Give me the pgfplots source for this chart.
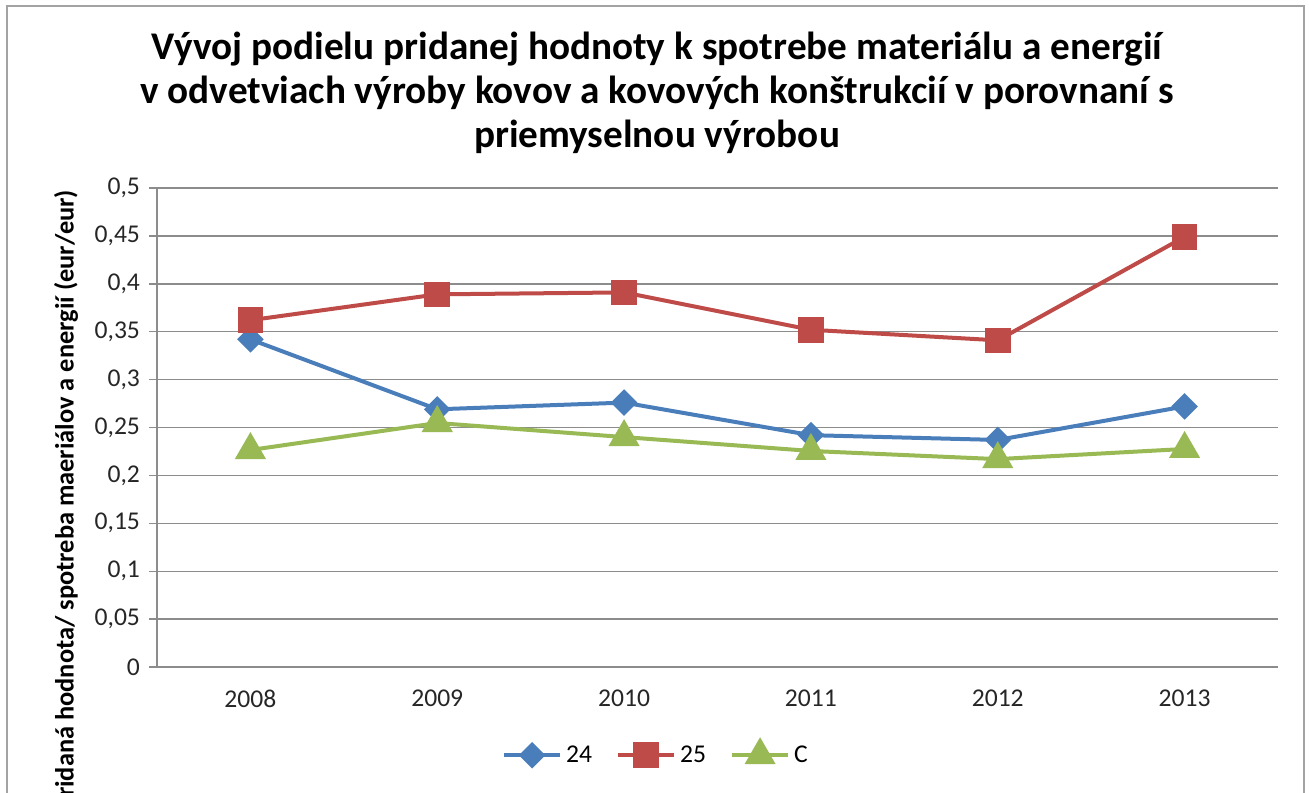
\documentclass[border=0pt]{standalone}
\usepackage{pgfplots}
\pgfplotsset{compat=1.18}
\usepackage{fontspec}
\setmainfont{Carlito}
\definecolor{cblue}{HTML}{4A7EBB}
\definecolor{cred}{HTML}{BE4B48}
\definecolor{cgreen}{HTML}{98B954}
\definecolor{cgrid}{HTML}{8C8C8C}
\begin{document}
\begin{tikzpicture}[x=1pt,y=1pt]
\useasboundingbox (0,0) rectangle (654.5,396);
\clip (0,0) rectangle (654.5,396);
\draw[cgrid!80, line width=1pt] (3.5,393) rectangle (652,-20);
\node[align=center, font=\bfseries\fontsize{19.6}{22}\selectfont] at (328.5,349.5)
 {Vývoj podielu pridanej hodnoty k spotrebe materiálu a energií\\v odvetviach výroby kovov a kovových konštrukcií v porovnaní s\\priemyselnou výrobou};
\node[rotate=90, anchor=east, font=\bfseries\fontsize{13.2}{15}\selectfont] at (33,304.5)
 {pridaná hodnota/ spotreba maeriálov a energií (eur/eur)};
\begin{axis}[
  at={(78.5pt,62.5pt)}, anchor=south west,
  scale only axis, width=560.5pt, height=239.5pt,
  xmin=-0.5, xmax=5.5, ymin=0, ymax=0.5,
  xtick={0,...,5},
  xticklabels={2008,2009,2010,2011,2012,2013},
  minor xtick={-0.5,0.5,...,5.5},
  ytick={0,0.05,...,0.5},
  yticklabels={0,{0,05},{0,1},{0,15},{0,2},{0,25},{0,3},{0,35},{0,4},{0,45},{0,5}},
  ymajorgrids,
  grid style={cgrid, line width=0.7pt},
  major grid style={cgrid, line width=0.7pt},
  axis x line*=bottom, axis y line*=left,
  axis line style={cgrid, line width=0.7pt, -},
  tick align=outside,
  xtick style={draw=none},
  minor x tick style={cgrid, line width=0.7pt},
  ytick style={cgrid, line width=0.7pt},
  major tick length=4pt, minor tick length=4pt,
  tick label style={font=\fontsize{12.8}{15}\selectfont, text=black!85},
  xticklabel style={yshift=-4pt},
  yticklabel style={xshift=-1pt},
  legend columns=3,
  legend style={at={(0.446,-0.184)}, anchor=center, draw=none, fill=none,
    font=\fontsize{12.8}{15}\selectfont, inner sep=0pt,
    /tikz/every even column/.append style={column sep=10pt}},
  legend image code/.code={\draw[mark repeat=2,mark phase=2] plot coordinates {(0pt,0pt)(14pt,0pt)(28pt,0pt)};},
  every axis plot/.append style={line width=2pt},
]
\addplot[cblue, mark=square*, mark size=3.7pt, mark options={rotate=45, solid}]
 coordinates {(0,0.342)(1,0.269)(2,0.276)(3,0.242)(4,0.237)(5,0.272)};
\addlegendentry{24}
\addplot[cred, mark=square*, mark size=5.4pt, mark options={solid}]
 coordinates {(0,0.362)(1,0.389)(2,0.391)(3,0.352)(4,0.341)(5,0.449)};
\addlegendentry{25}
\addplot[cgreen, mark=triangle*, mark size=7pt, mark options={solid}]
 coordinates {(0,0.2265)(1,0.2547)(2,0.240)(3,0.2255)(4,0.217)(5,0.2276)};
\addlegendentry{C}
\end{axis}
\end{tikzpicture}
\end{document}
